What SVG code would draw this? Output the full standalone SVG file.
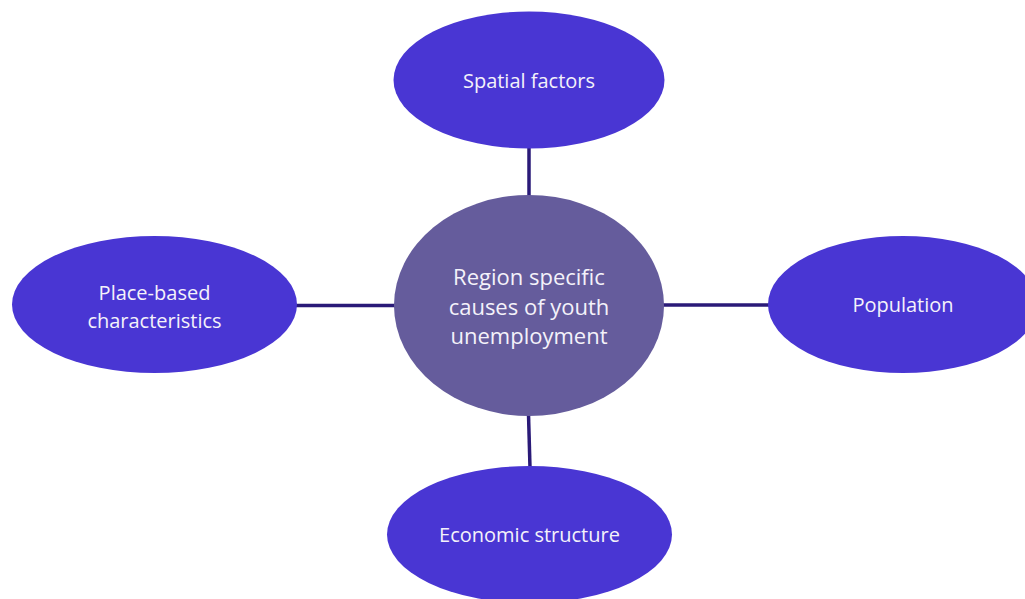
<svg xmlns="http://www.w3.org/2000/svg" width="1025" height="599" viewBox="0 0 1025 599">
<style>
.leaf{fill:#4936D3}
.hub{fill:#655C9C}
.conn{stroke:#2A1A78;stroke-width:3.5;fill:none}
text{font-family:"Open Sans","Liberation Sans",sans-serif;fill:#F4F2FA;text-anchor:middle}
.t{font-size:20px}
.c{font-size:22px}
</style>
<rect width="1025" height="599" fill="#FFFFFF"/>
<g id="connectors">
<line class="conn" x1="529" y1="146" x2="529" y2="198"/>
<line class="conn" x1="296" y1="305.5" x2="396" y2="305.5"/>
<line class="conn" x1="662" y1="305" x2="770" y2="305"/>
<line class="conn" x1="528.5" y1="414" x2="530" y2="468"/>
</g>
<g id="node-spatial">
<ellipse class="leaf" cx="529" cy="80" rx="135.5" ry="68.5"/>
<text class="t" x="529" y="88">Spatial factors</text>
</g>
<g id="node-center">
<ellipse class="hub" cx="529" cy="305.5" rx="135" ry="110.5"/>
<text class="c" x="529" y="285">Region specific</text>
<text class="c" x="529" y="314.5">causes of youth</text>
<text class="c" x="529" y="344">unemployment</text>
</g>
<g id="node-place">
<ellipse class="leaf" cx="154.5" cy="304.5" rx="142.5" ry="68.5"/>
<text class="t" x="154.5" y="300">Place-based</text>
<text class="t" x="154.5" y="327.5">characteristics</text>
</g>
<g id="node-population">
<ellipse class="leaf" cx="903" cy="304.5" rx="135" ry="68.5"/>
<text class="t" x="903" y="312">Population</text>
</g>
<g id="node-economic">
<ellipse class="leaf" cx="529.5" cy="534.5" rx="142.5" ry="68.5"/>
<text class="t" x="529.5" y="541.5">Economic structure</text>
</g>
</svg>
